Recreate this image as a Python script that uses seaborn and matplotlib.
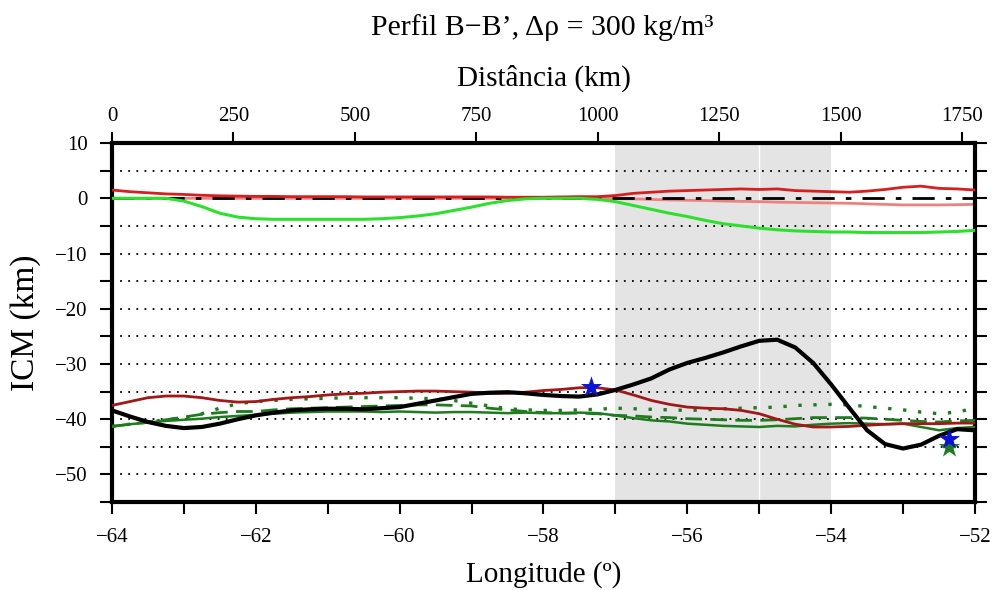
# Perfil B-B' - ICM ao longo do perfil
import numpy as np
import pandas as pd
import matplotlib
matplotlib.use("Agg")
import matplotlib.pyplot as plt
import seaborn as sns

# Dados
lon = np.arange(-64, -51.99, 0.25)  # longitude, passo 0.25 grau

moho = [-38.4, -39.5, -40.5, -41.2, -41.6, -41.4, -40.8, -40.0, -39.3, -38.8,
        -38.4, -38.2, -38.1, -38.1, -38.2, -38.0, -37.8, -37.2, -36.6, -36.0,
        -35.4, -35.2, -35.1, -35.3, -35.6, -35.8, -35.9, -35.5, -34.7, -33.7,
        -32.6, -31.0, -29.8, -28.9, -27.9, -26.8, -25.8, -25.6, -27.0, -29.8,
        -33.7, -37.9, -42.0, -44.5, -45.3, -44.6, -43.0, -41.8, -42.0]

sup_red = [1.5, 1.2, 1.0, 0.8, 0.7, 0.55, 0.45, 0.4, 0.35, 0.35,
           0.3, 0.3, 0.3, 0.3, 0.25, 0.25, 0.25, 0.25, 0.25, 0.25,
           0.25, 0.25, 0.2, 0.2, 0.2, 0.25, 0.3, 0.3, 0.5, 0.9,
           1.1, 1.3, 1.4, 1.5, 1.6, 1.7, 1.6, 1.7, 1.4, 1.3,
           1.2, 1.1, 1.3, 1.6, 2.0, 2.2, 1.8, 1.7, 1.5]

sup_pink = [0.0, 0.0, 0.0, 0.0, 0.0, 0.0, 0.0, 0.0, 0.0, 0.0,
            0.0, 0.0, 0.0, 0.0, 0.0, 0.0, 0.0, 0.0, 0.0, 0.0,
            0.0, 0.0, 0.0, 0.0, 0.0, 0.0, 0.0, 0.0, -0.05, -0.1,
            -0.2, -0.3, -0.35, -0.4, -0.5, -0.55, -0.6, -0.7, -0.75, -0.8,
            -0.85, -0.9, -1.0, -1.1, -1.2, -1.2, -1.2, -1.15, -1.1]

sup_green = [0.0, 0.0, 0.0, 0.0, -0.5, -1.5, -2.7, -3.4, -3.7, -3.8,
             -3.8, -3.8, -3.8, -3.8, -3.8, -3.7, -3.5, -3.2, -2.8, -2.2,
             -1.6, -0.9, -0.4, -0.1, 0.0, 0.0, 0.0, -0.2, -0.6, -1.3,
             -2.0, -2.7, -3.3, -4.0, -4.6, -5.0, -5.4, -5.7, -5.9, -6.0,
             -6.1, -6.1, -6.2, -6.2, -6.2, -6.2, -6.1, -6.0, -5.8]

inf_red = [-37.5, -36.8, -36.1, -35.8, -35.8, -36.1, -36.6, -36.9, -36.8, -36.4,
           -36.1, -35.9, -35.6, -35.4, -35.3, -35.1, -35.0, -34.9, -34.9, -35.0,
           -35.1, -35.3, -35.3, -35.1, -34.8, -34.6, -34.3, -34.3, -34.7, -35.6,
           -36.6, -37.3, -37.8, -38.0, -38.1, -38.4, -39.0, -40.0, -40.9, -41.4,
           -41.4, -41.3, -41.1, -40.9, -40.8, -40.8, -40.8, -40.7, -40.7]

inf_green = [-41.3, -40.9, -40.6, -40.3, -40.1, -39.9, -39.6, -39.4, -39.2, -39.0,
             -38.8, -38.7, -38.6, -38.6, -38.6, -38.7, -38.6, -38.7, -38.8, -38.7,
             -38.7, -38.8, -38.9, -38.8, -38.9, -38.9, -38.8, -38.9, -39.3, -39.8,
             -40.2, -40.4, -40.8, -41.0, -41.2, -41.3, -41.4, -41.2, -41.3, -41.0,
             -40.8, -40.7, -40.8, -40.9, -40.8, -41.4, -42.0, -41.6, -41.4]

inf_green_dash = [-41.3, -40.9, -40.5, -40.1, -39.6, -39.1, -38.8, -38.6, -38.6, -38.3,
                  -38.1, -38.0, -37.9, -37.8, -37.7, -37.6, -37.5, -37.4, -37.4, -37.5,
                  -37.6, -38.0, -38.3, -38.6, -38.8, -38.9, -38.9, -39.0, -39.3, -39.4,
                  -39.6, -39.7, -39.9, -40.0, -40.1, -40.2, -40.2, -40.1, -39.9, -39.7,
                  -39.7, -39.7, -39.8, -40.0, -40.2, -40.4, -40.5, -40.3, -40.2]

inf_green_dot = [-41.3, -40.9, -40.5, -40.1, -39.8, -39.0, -38.0, -37.2, -36.8, -36.6,
                 -36.4, -36.3, -36.2, -36.1, -36.1, -36.1, -36.1, -36.2, -36.3, -36.6,
                 -37.1, -37.6, -38.1, -38.3, -38.4, -38.4, -38.3, -38.2, -38.0, -38.1,
                 -38.2, -38.3, -38.4, -38.3, -38.1, -38.0, -37.9, -37.8, -37.5, -37.4,
                 -37.3, -37.4, -37.7, -38.0, -38.3, -38.7, -39.0, -38.7, -38.0]

star_lon = [-57.34, -52.36]
star_blue = [-34.2, -43.6]
star_green_lon = [-52.36]
star_green = [-45.1]

df = pd.DataFrame({"lon": lon, "moho": moho, "sup_red": sup_red, "sup_pink": sup_pink,
                   "sup_green": sup_green, "inf_red": inf_red, "inf_green": inf_green,
                   "inf_green_dash": inf_green_dash, "inf_green_dot": inf_green_dot})

sns.set_theme(style="white")
plt.rcParams["font.family"] = ["Liberation Serif", "DejaVu Serif"]
plt.rcParams["text.color"] = "black"
plt.rcParams["axes.labelcolor"] = "black"
plt.rcParams["xtick.color"] = "black"
plt.rcParams["ytick.color"] = "black"

fig = plt.figure(figsize=(9.96, 5.90), dpi=100)
ax = fig.add_axes([0.1124, 0.149, 0.8665, 0.6085])

# area sombreada
ax.axvspan(-57, -54, color="#e4e4e4", lw=0, zorder=0)
ax.axvline(-55, color="white", lw=1, zorder=0.5)

# linhas de grade pontilhadas
for yy in range(-50, 10, 5):
    if yy == 0:
        continue
    ax.axhline(yy, color="black", lw=1.3, ls=(0, (1, 3.5)), zorder=1)

# superficie
sns.lineplot(data=df, x="lon", y="sup_pink", color="#f08080", lw=2, ax=ax, zorder=2)
ax.axhline(0, color="black", lw=2, ls=(0, (8, 4, 2, 4)), zorder=3)
sns.lineplot(data=df, x="lon", y="sup_red", color="#d42020", lw=2, ax=ax, zorder=3)
sns.lineplot(data=df, x="lon", y="sup_green", color="#2ee02e", lw=2.2, ax=ax, zorder=3)

# profundidade
sns.lineplot(data=df, x="lon", y="inf_green_dot", color="#1e7b1e", lw=2.4,
             ls=(0, (1, 3.5)), ax=ax, zorder=3)
sns.lineplot(data=df, x="lon", y="inf_green_dash", color="#1e7b1e", lw=2,
             ls=(0, (6, 3)), ax=ax, zorder=3)
sns.lineplot(data=df, x="lon", y="inf_green", color="#1e7b1e", lw=1.8, ax=ax, zorder=3)
sns.lineplot(data=df, x="lon", y="inf_red", color="#a01818", lw=2, ax=ax, zorder=3)
sns.lineplot(data=df, x="lon", y="moho", color="black", lw=3, ax=ax, zorder=4)

ax.scatter(star_green_lon, star_green, marker="*", s=260, color="#1e7b1e", zorder=5, lw=0)
ax.scatter(star_lon, star_blue, marker="*", s=260, color="#0a14d8", zorder=6, lw=0)

xt = np.arange(-64, -51.5, 1)
yt = np.arange(-55, 11, 5)
ax.set_xlim(-64, -52)
ax.set_ylim(-55, 10)
ax.set_xticks(xt)
ax.set_xticklabels([f"{int(v)}".replace("-", "\u2212") if v % 2 == 0 else "" for v in xt])
ax.set_yticks(yt)
ax.set_yticklabels([f"{int(v)}".replace("-", "\u2212") if v % 10 == 0 else "" for v in yt])
ax.tick_params(axis="both", direction="out", length=8.5, width=1.5, labelsize=15)
ax.tick_params(axis="x", pad=10, bottom=True)
ax.tick_params(axis="y", pad=9, left=True, right=True)
for s in ax.spines.values():
    s.set_linewidth(3)
    s.set_color("black")
ax.set_xlabel("Longitude (º)", fontsize=21, labelpad=10)
ax.set_ylabel("ICM (km)", fontsize=24, labelpad=10)

# eixo superior em distancia
ax2 = ax.twiny()
ax2.set_xlim(0, 1776)
ax2.set_xticks(np.arange(0, 1751, 250))
ax2.tick_params(axis="x", direction="out", length=8, width=1.5, labelsize=15, pad=4,
                top=True)
for s in ax2.spines.values():
    s.set_visible(False)
ax2.set_xlabel("Distância (km)", fontsize=21, labelpad=16)

fig.text(0.5445, 0.9407, "Perfil B−B’, Δρ = 300 kg/m³", fontsize=21.5,
         ha="center", va="baseline")

fig.savefig("out.png", dpi=100)
